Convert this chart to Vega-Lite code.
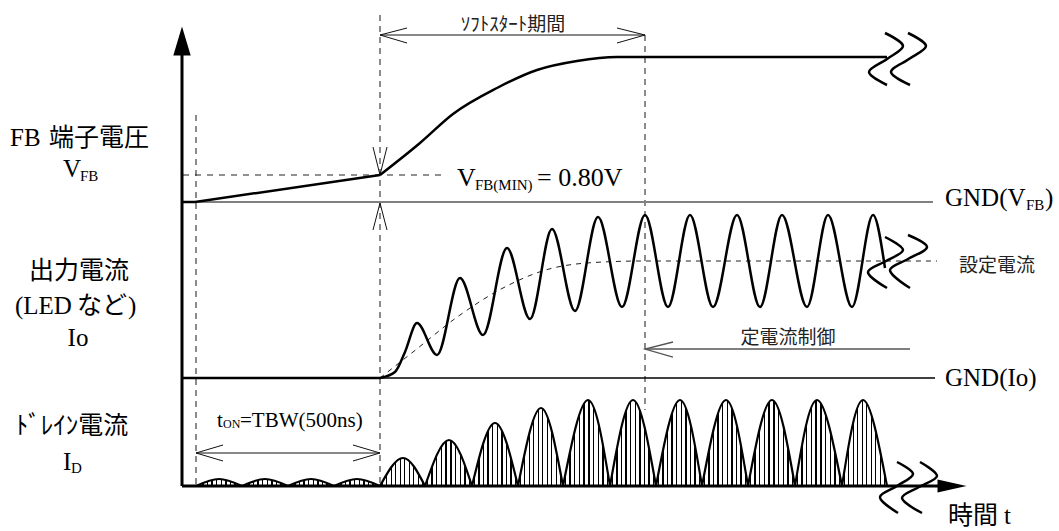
{
 "$schema": "https://vega.github.io/schema/vega-lite/v6.json",
 "width": 1059, "height": 531, "padding": 0, "autosize": {"type": "none"},
 "background": "white",
 "config": {"view": {"stroke": null}},
 "datasets": {
  "axes": [
   {"g": "a1", "x": 182, "y": 55}, {"g": "a1", "x": 182, "y": 486},
   {"g": "a2", "x": 182, "y": 486}, {"g": "a2", "x": 940, "y": 486}
  ],
  "thickLin": [
   {"g": "v1", "x": 182, "y": 202}, {"g": "v1", "x": 195, "y": 202}, {"g": "v1", "x": 380, "y": 175},
   {"g": "i1", "x": 182, "y": 378}, {"g": "i1", "x": 380, "y": 378}
  ],
  "smooth": [
   {"g": "vfb", "x": 380, "y": 175}, {"g": "vfb", "x": 420, "y": 143}, {"g": "vfb", "x": 453, "y": 114},
   {"g": "vfb", "x": 497, "y": 88}, {"g": "vfb", "x": 537, "y": 70}, {"g": "vfb", "x": 577, "y": 61},
   {"g": "vfb", "x": 617, "y": 57}, {"g": "vfb", "x": 700, "y": 57}, {"g": "vfb", "x": 887, "y": 57},
   {"g": "io", "x": 380, "y": 378}, {"g": "io", "x": 395, "y": 372}, {"g": "io", "x": 405, "y": 352},
   {"g": "io", "x": 417, "y": 323}, {"g": "io", "x": 437, "y": 355}, {"g": "io", "x": 460, "y": 278},
   {"g": "io", "x": 483, "y": 335}, {"g": "io", "x": 507, "y": 248}, {"g": "io", "x": 530, "y": 319},
   {"g": "io", "x": 552, "y": 229}, {"g": "io", "x": 575, "y": 311}, {"g": "io", "x": 598, "y": 217},
   {"g": "io", "x": 622, "y": 307}, {"g": "io", "x": 645, "y": 215}, {"g": "io", "x": 668, "y": 307},
   {"g": "io", "x": 690, "y": 215}, {"g": "io", "x": 713, "y": 307}, {"g": "io", "x": 737, "y": 215},
   {"g": "io", "x": 760, "y": 307}, {"g": "io", "x": 782, "y": 215}, {"g": "io", "x": 807, "y": 307},
   {"g": "io", "x": 828, "y": 215}, {"g": "io", "x": 852, "y": 307}, {"g": "io", "x": 873, "y": 215},
   {"g": "io", "x": 885, "y": 268}
  ],
  "gray": [
   {"g": "gnd", "x": 182, "y": 202}, {"g": "gnd", "x": 933, "y": 202}
  ],
  "grayThin": [
   {"g": "c1", "x": 645, "y": 349}, {"g": "c1", "x": 910, "y": 349},
   {"g": "c2", "x": 673, "y": 342}, {"g": "c2", "x": 645, "y": 349}, {"g": "c2", "x": 673, "y": 357}
  ],
  "thin": [
   {"g": "s1", "x": 380, "y": 35}, {"g": "s1", "x": 645, "y": 35},
   {"g": "s2", "x": 407, "y": 28}, {"g": "s2", "x": 380, "y": 35}, {"g": "s2", "x": 407, "y": 43},
   {"g": "s3", "x": 617, "y": 28}, {"g": "s3", "x": 645, "y": 35}, {"g": "s3", "x": 617, "y": 43},
   {"g": "t1", "x": 196, "y": 453}, {"g": "t1", "x": 380, "y": 453},
   {"g": "t2", "x": 223, "y": 445}, {"g": "t2", "x": 196, "y": 453}, {"g": "t2", "x": 223, "y": 461},
   {"g": "t3", "x": 353, "y": 445}, {"g": "t3", "x": 380, "y": 453}, {"g": "t3", "x": 353, "y": 461},
   {"g": "d1", "x": 373, "y": 147}, {"g": "d1", "x": 380, "y": 175}, {"g": "d1", "x": 387, "y": 147},
   {"g": "u1", "x": 373, "y": 230}, {"g": "u1", "x": 380, "y": 203}, {"g": "u1", "x": 387, "y": 230}
  ],
  "gndIo": [
   {"g": "gi", "x": 380, "y": 378}, {"g": "gi", "x": 935, "y": 378}
  ],
  "dashV": [
   {"g": "dv1", "x": 196, "y": 115}, {"g": "dv1", "x": 196, "y": 486},
   {"g": "dv2", "x": 380, "y": 15}, {"g": "dv2", "x": 380, "y": 486},
   {"g": "dv3", "x": 645, "y": 35}, {"g": "dv3", "x": 645, "y": 410}
  ],
  "dashH": [
   {"g": "dh", "x": 183, "y": 175}, {"g": "dh", "x": 443, "y": 175}
  ],
  "setI": [
   {"g": "si", "x": 380, "y": 378}, {"g": "si", "x": 413, "y": 352}, {"g": "si", "x": 460, "y": 315},
   {"g": "si", "x": 503, "y": 288}, {"g": "si", "x": 553, "y": 268}, {"g": "si", "x": 603, "y": 262},
   {"g": "si", "x": 643, "y": 261}, {"g": "si", "x": 937, "y": 261}
  ],
  "squig": [
   {"g": "q1", "x": 885, "y": 33}, {"g": "q1", "x": 903, "y": 46}, {"g": "q1", "x": 887, "y": 59}, {"g": "q1", "x": 869, "y": 72}, {"g": "q1", "x": 887, "y": 85},
   {"g": "q2", "x": 908, "y": 33}, {"g": "q2", "x": 926, "y": 46}, {"g": "q2", "x": 909, "y": 59}, {"g": "q2", "x": 891, "y": 72}, {"g": "q2", "x": 910, "y": 85},
   {"g": "q3", "x": 885, "y": 237}, {"g": "q3", "x": 903, "y": 250}, {"g": "q3", "x": 886, "y": 261}, {"g": "q3", "x": 868, "y": 272}, {"g": "q3", "x": 887, "y": 288},
   {"g": "q4", "x": 908, "y": 235}, {"g": "q4", "x": 927, "y": 247}, {"g": "q4", "x": 908, "y": 259}, {"g": "q4", "x": 890, "y": 270}, {"g": "q4", "x": 910, "y": 288},
   {"g": "q5", "x": 897, "y": 462}, {"g": "q5", "x": 913, "y": 474}, {"g": "q5", "x": 897, "y": 486}, {"g": "q5", "x": 880, "y": 497}, {"g": "q5", "x": 898, "y": 513},
   {"g": "q6", "x": 920, "y": 462}, {"g": "q6", "x": 937, "y": 476}, {"g": "q6", "x": 919, "y": 487}, {"g": "q6", "x": 902, "y": 498}, {"g": "q6", "x": 922, "y": 513}
  ],
  "humps": [
   {"g": "h01", "x": 196, "y": 486}, {"g": "h01", "x": 219, "y": 479}, {"g": "h01", "x": 242, "y": 486},
   {"g": "h02", "x": 242, "y": 486}, {"g": "h02", "x": 265, "y": 479}, {"g": "h02", "x": 288, "y": 486},
   {"g": "h03", "x": 288, "y": 486}, {"g": "h03", "x": 311, "y": 479}, {"g": "h03", "x": 334, "y": 486},
   {"g": "h04", "x": 334, "y": 486}, {"g": "h04", "x": 357, "y": 479}, {"g": "h04", "x": 380, "y": 486},
   {"g": "h05", "x": 380, "y": 486}, {"g": "h05", "x": 403, "y": 458}, {"g": "h05", "x": 425, "y": 486},
   {"g": "h06", "x": 425, "y": 486}, {"g": "h06", "x": 449, "y": 440}, {"g": "h06", "x": 472, "y": 486},
   {"g": "h07", "x": 472, "y": 486}, {"g": "h07", "x": 495, "y": 423}, {"g": "h07", "x": 518, "y": 486},
   {"g": "h08", "x": 518, "y": 486}, {"g": "h08", "x": 541, "y": 408}, {"g": "h08", "x": 563, "y": 486},
   {"g": "h09", "x": 563, "y": 486}, {"g": "h09", "x": 588, "y": 400}, {"g": "h09", "x": 610, "y": 486},
   {"g": "h10", "x": 610, "y": 486}, {"g": "h10", "x": 633, "y": 400}, {"g": "h10", "x": 656, "y": 486},
   {"g": "h11", "x": 656, "y": 486}, {"g": "h11", "x": 680, "y": 400}, {"g": "h11", "x": 702, "y": 486},
   {"g": "h12", "x": 702, "y": 486}, {"g": "h12", "x": 726, "y": 400}, {"g": "h12", "x": 748, "y": 486},
   {"g": "h13", "x": 748, "y": 486}, {"g": "h13", "x": 772, "y": 400}, {"g": "h13", "x": 795, "y": 486},
   {"g": "h14", "x": 795, "y": 486}, {"g": "h14", "x": 817, "y": 400}, {"g": "h14", "x": 842, "y": 486},
   {"g": "h15", "x": 842, "y": 486}, {"g": "h15", "x": 863, "y": 400}, {"g": "h15", "x": 887, "y": 486}
  ],
  "tri": [
   {"d": "up", "x": 182, "y": 41}, {"d": "right", "x": 952, "y": 486}
  ],
  "cjkC": [
   {"t": "出力電流", "x": 79, "y": 279},
   {"t": "ﾄﾞﾚｲﾝ電流", "x": 72, "y": 434}
  ],
  "cjkL": [
   {"t": "端子電圧", "x": 49, "y": 146},
   {"t": "など", "x": 77, "y": 314},
   {"t": "時間", "x": 948, "y": 524}
  ],
  "serifC": [
   {"t": "Io", "x": 78, "y": 346}
  ],
  "serifL": [
   {"t": "FB", "x": 10, "y": 146},
   {"t": "(LED", "x": 15, "y": 314},
   {"t": ")", "x": 128, "y": 314},
   {"t": "t", "x": 1004, "y": 524},
   {"t": "V", "x": 63, "y": 177},
   {"t": "I", "x": 63, "y": 470},
   {"t": "GND(V", "x": 945, "y": 206},
   {"t": ")", "x": 1045, "y": 206},
   {"t": "GND(Io)", "x": 945, "y": 386}
  ],
  "vmin": [
   {"t": "V", "x": 457, "y": 186},
   {"t": "= 0.80V", "x": 537, "y": 186}
  ],
  "sub": [
   {"t": "FB", "x": 80, "y": 181},
   {"t": "D", "x": 71, "y": 473},
   {"t": "FB", "x": 1026, "y": 210},
   {"t": "FB(MIN)", "x": 475, "y": 190}
  ],
  "tonBig": [
   {"t": "t", "x": 217, "y": 427},
   {"t": "=TBW(500ns)", "x": 240, "y": 427}
  ],
  "tonSub": [
   {"t": "ON", "x": 223, "y": 428}
  ],
  "mid": [
   {"t": "ｿﾌﾄｽﾀｰﾄ期間", "x": 513, "y": 31},
   {"t": "設定電流", "x": 997, "y": 272},
   {"t": "定電流制御", "x": 788, "y": 344}
  ]
 },
 "encoding": {
  "x": {"field": "x", "type": "quantitative", "scale": {"domain": [0, 1059], "nice": false, "zero": false}, "axis": null},
  "y": {"field": "y", "type": "quantitative", "scale": {"domain": [0, 531], "nice": false, "zero": false, "reverse": true}, "axis": null}
 },
 "layer": [
  {"data": {"name": "dashV"}, "mark": {"type": "line", "color": "#666", "strokeWidth": 1.5, "strokeDash": [6, 5]},
   "encoding": {"detail": {"field": "g"}, "order": {"value": null}}},
  {"data": {"name": "dashH"}, "mark": {"type": "line", "color": "#222", "strokeWidth": 1, "strokeDash": [6, 6]},
   "encoding": {"detail": {"field": "g"}, "order": {"value": null}}},
  {"data": {"name": "setI"}, "mark": {"type": "line", "color": "#222", "strokeWidth": 1, "strokeDash": [5, 5], "interpolate": "monotone"},
   "encoding": {"detail": {"field": "g"}, "order": {"value": null}}},
  {"data": {"name": "gray"}, "mark": {"type": "line", "color": "#808080", "strokeWidth": 2},
   "encoding": {"detail": {"field": "g"}, "order": {"value": null}}},
  {"data": {"name": "grayThin"}, "mark": {"type": "line", "color": "#555", "strokeWidth": 1.3},
   "encoding": {"detail": {"field": "g"}, "order": {"value": null}}},
  {"data": {"name": "gndIo"}, "mark": {"type": "line", "color": "#000", "strokeWidth": 1.5},
   "encoding": {"detail": {"field": "g"}, "order": {"value": null}}},
  {"data": {"name": "thin"}, "mark": {"type": "line", "color": "#111", "strokeWidth": 1},
   "encoding": {"detail": {"field": "g"}, "order": {"value": null}}},
  {"data": {"name": "humps"}, "mark": {"type": "area", "interpolate": "natural",
    "fill": {"gradient": "linear", "x1": 0, "y1": 0, "x2": 1, "y2": 0, "stops": [
     {"offset": 0, "color": "#fff"},
     {"offset": 0.035, "color": "#fff"}, {"offset": 0.035, "color": "#000"}, {"offset": 0.065, "color": "#000"}, {"offset": 0.065, "color": "#fff"},
     {"offset": 0.135, "color": "#fff"}, {"offset": 0.135, "color": "#000"}, {"offset": 0.165, "color": "#000"}, {"offset": 0.165, "color": "#fff"},
     {"offset": 0.235, "color": "#fff"}, {"offset": 0.235, "color": "#000"}, {"offset": 0.265, "color": "#000"}, {"offset": 0.265, "color": "#fff"},
     {"offset": 0.335, "color": "#fff"}, {"offset": 0.335, "color": "#000"}, {"offset": 0.365, "color": "#000"}, {"offset": 0.365, "color": "#fff"},
     {"offset": 0.435, "color": "#fff"}, {"offset": 0.435, "color": "#000"}, {"offset": 0.465, "color": "#000"}, {"offset": 0.465, "color": "#fff"},
     {"offset": 0.535, "color": "#fff"}, {"offset": 0.535, "color": "#000"}, {"offset": 0.565, "color": "#000"}, {"offset": 0.565, "color": "#fff"},
     {"offset": 0.635, "color": "#fff"}, {"offset": 0.635, "color": "#000"}, {"offset": 0.665, "color": "#000"}, {"offset": 0.665, "color": "#fff"},
     {"offset": 0.735, "color": "#fff"}, {"offset": 0.735, "color": "#000"}, {"offset": 0.765, "color": "#000"}, {"offset": 0.765, "color": "#fff"},
     {"offset": 0.835, "color": "#fff"}, {"offset": 0.835, "color": "#000"}, {"offset": 0.865, "color": "#000"}, {"offset": 0.865, "color": "#fff"},
     {"offset": 0.935, "color": "#fff"}, {"offset": 0.935, "color": "#000"}, {"offset": 0.965, "color": "#000"}, {"offset": 0.965, "color": "#fff"},
     {"offset": 1, "color": "#fff"}]}},
   "encoding": {"detail": {"field": "g"}, "y2": {"datum": 486}}},
  {"data": {"name": "humps"}, "mark": {"type": "line", "color": "#000", "strokeWidth": 2.2, "interpolate": "natural"},
   "encoding": {"detail": {"field": "g"}}},
  {"data": {"name": "thickLin"}, "mark": {"type": "line", "color": "#000", "strokeWidth": 2.5},
   "encoding": {"detail": {"field": "g"}, "order": {"value": null}}},
  {"data": {"name": "smooth"}, "mark": {"type": "line", "color": "#000", "strokeWidth": 2.5, "interpolate": "monotone"},
   "encoding": {"detail": {"field": "g"}, "order": {"value": null}}},
  {"data": {"name": "axes"}, "mark": {"type": "line", "color": "#000", "strokeWidth": 3},
   "encoding": {"detail": {"field": "g"}, "order": {"value": null}}},
  {"data": {"name": "tri"}, "mark": {"type": "point", "filled": true, "color": "#000", "opacity": 1, "size": 841},
   "encoding": {"shape": {"field": "d", "type": "nominal", "legend": null,
     "scale": {"domain": ["up", "right"], "range": ["M0,-1L0.6,1L-0.6,1Z", "M1,0L-1,0.45L-1,-0.45Z"]}}}},
  {"data": {"name": "squig"}, "mark": {"type": "line", "color": "#000", "strokeWidth": 2.5, "interpolate": "catmull-rom"},
   "encoding": {"detail": {"field": "g"}, "order": {"value": null}}},
  {"data": {"name": "cjkC"}, "mark": {"type": "text", "font": "Noto Sans CJK JP", "fontSize": 25, "align": "center", "baseline": "alphabetic", "color": "#000"},
   "encoding": {"text": {"field": "t"}}},
  {"data": {"name": "cjkL"}, "mark": {"type": "text", "font": "Noto Sans CJK JP", "fontSize": 25, "align": "left", "baseline": "alphabetic", "color": "#000"},
   "encoding": {"text": {"field": "t"}}},
  {"data": {"name": "serifC"}, "mark": {"type": "text", "font": "Liberation Serif", "fontSize": 25, "align": "center", "baseline": "alphabetic", "color": "#000"},
   "encoding": {"text": {"field": "t"}}},
  {"data": {"name": "serifL"}, "mark": {"type": "text", "font": "Liberation Serif", "fontSize": 25, "align": "left", "baseline": "alphabetic", "color": "#000"},
   "encoding": {"text": {"field": "t"}}},
  {"data": {"name": "vmin"}, "mark": {"type": "text", "font": "Liberation Serif", "fontSize": 26, "align": "left", "baseline": "alphabetic", "color": "#000"},
   "encoding": {"text": {"field": "t"}}},
  {"data": {"name": "sub"}, "mark": {"type": "text", "font": "Liberation Serif", "fontSize": 15, "align": "left", "baseline": "alphabetic", "color": "#000"},
   "encoding": {"text": {"field": "t"}}},
  {"data": {"name": "tonBig"}, "mark": {"type": "text", "font": "Liberation Serif", "fontSize": 21, "align": "left", "baseline": "alphabetic", "color": "#000"},
   "encoding": {"text": {"field": "t"}}},
  {"data": {"name": "tonSub"}, "mark": {"type": "text", "font": "Liberation Serif", "fontSize": 12, "align": "left", "baseline": "alphabetic", "color": "#000"},
   "encoding": {"text": {"field": "t"}}},
  {"data": {"name": "mid"}, "mark": {"type": "text", "font": "Noto Sans CJK JP", "fontSize": 19, "align": "center", "baseline": "alphabetic", "color": "#222"},
   "encoding": {"text": {"field": "t"}}}
 ]
}
